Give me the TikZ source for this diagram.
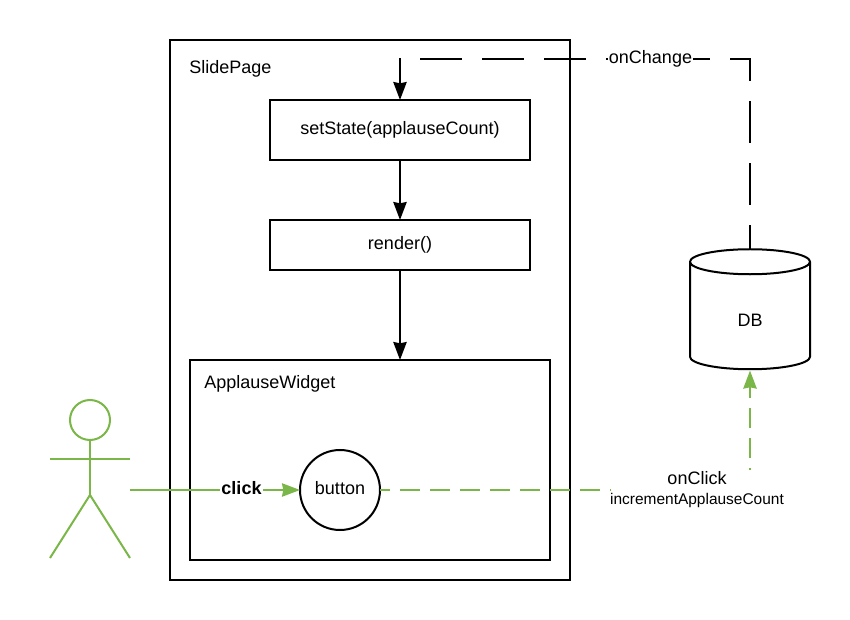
\documentclass[tikz,border=0pt]{standalone}
\usepackage{fontspec}
\setmainfont{Liberation Sans}
\usetikzlibrary{positioning,shapes.geometric,arrows.meta,calc}
\definecolor{actorgreen}{HTML}{7AB648}
\tikzset{
  frame/.style    = {rectangle, draw, line width=1.5pt, outer sep=0pt, inner sep=0pt},
  stepbox/.style  = {frame, font=\fontsize{13.5}{16}\selectfont},
  caption/.style  = {anchor=west, inner sep=0pt, font=\fontsize{13.5}{16}\selectfont},
  flow/.style     = {line width=1.5pt, -{Stealth[length=13.5pt,width=10pt,inset=1pt]}},
  change/.style   = {line width=1.5pt, dash pattern=on 31.5pt off 15pt, dash phase=12.5pt,
                     {Stealth[length=13.5pt,width=10pt,inset=1pt]}-},
  solidgreen/.style = {line width=1.5pt, actorgreen},
  greenflow/.style  = {solidgreen, -{Stealth[length=13.5pt,width=10pt,inset=1pt]}},
  greendash/.style  = {solidgreen, dash pattern=on 15pt off 7.5pt},
  tag/.style      = {fill=white, inner sep=1pt, align=center, font=\fontsize{13.5}{16}\selectfont}
}
\newcommand{\stickman}[2]{%
  \begin{scope}[shift={(#1)}]
    \draw[solidgreen] (90,420) circle (20);
    \draw[solidgreen] (90,440) -- (90,495);
    \draw[solidgreen] (50,459) -- (130,459);
    \draw[solidgreen] (50,558) -- (90,495) -- (130,558);
    \coordinate (#2) at (130,490);
  \end{scope}}

\begin{document}
\begin{tikzpicture}[x=0.75pt,y=-0.75pt]
\useasboundingbox (0,0) rectangle (850,620);

% --- page and widget frames ---------------------------------------------
\node[frame, minimum width=300pt, minimum height=405pt] (slidepage) at (370,310) {};
\node[caption] (slidetitle) at (189,69) {SlidePage};
\node[frame, minimum width=270pt, minimum height=150pt] (widget) at (370,460) {};
\node[caption] (widgettitle) at (204,384) {ApplauseWidget};

% --- steps inside the page ----------------------------------------------
\node[stepbox, minimum width=195pt, minimum height=45pt] (setstate) at (400,130) {setState(applauseCount)};
\node[stepbox, minimum width=195pt, minimum height=37.5pt] (render) at (400,245) {render()};
\node[stepbox, circle, minimum size=60pt, text depth=3pt] (button) at (340,490) {button};

% --- database -----------------------------------------------------------
\node[cylinder, shape border rotate=90, draw, line width=1.5pt, outer sep=0pt, inner sep=0pt,
      minimum width=90pt, minimum height=90pt, aspect=1, text height=15.6pt,
      font=\fontsize{13.5}{16}\selectfont] (db) at (750,316) {DB};

% --- user ---------------------------------------------------------------
\stickman{0,0}{user}

% --- flow inside the page -----------------------------------------------
\draw[flow] (setstate) -- (render);
\draw[flow] (render.south) -- (widget.north -| render.south);

% --- click goes to the button -------------------------------------------
\draw[greenflow] (user) -- (button.west);
\node[tag, font=\fontsize{13.5}{16}\selectfont\bfseries] (click) at (241.5,488) {click};

% --- button writes to the database --------------------------------------
\node[tag] (onclick) at (697,490) {onClick\\[-1pt]{\fontsize{11.6}{14}\selectfont incrementApplauseCount}};
\draw[greendash, dash phase=7.5pt, shorten >=-2pt] (button.east) -- (button.east -| onclick.west);
\draw[greendash, dash phase=13.5pt, -{Stealth[length=13.5pt,width=10pt,inset=1pt]}, shorten >=1pt]
     (db.south |- onclick.north) -- (db.south);

% --- database notifies the page -----------------------------------------
\draw[change] (setstate.north) |- ++(0,-41) -| (db.north);
\node[tag, inner sep=1pt] (onchange) at (650.5,59) {onChange};

\end{tikzpicture}
\end{document}
